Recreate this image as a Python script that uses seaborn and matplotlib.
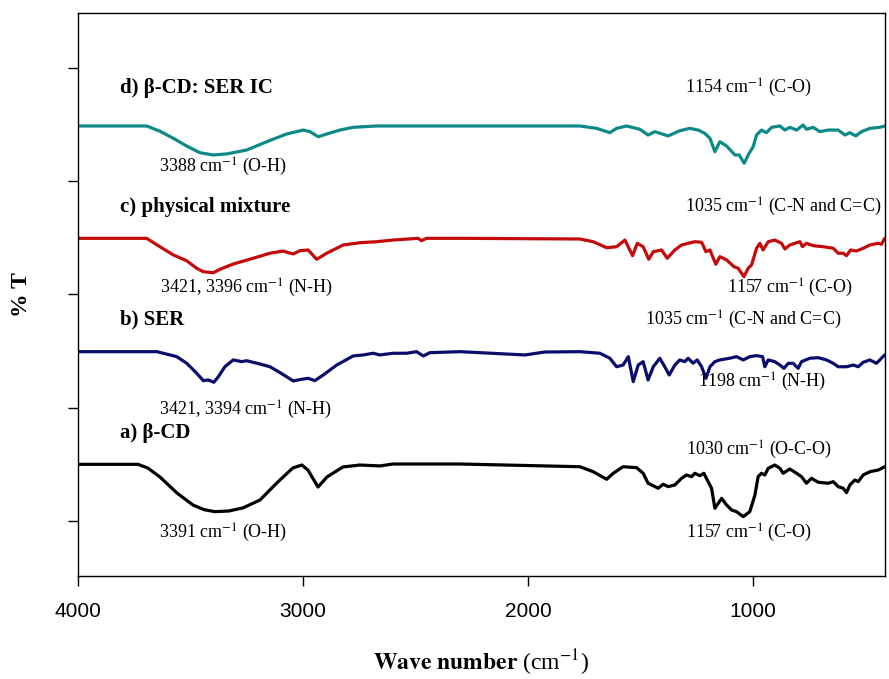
import numpy as np
import pandas as pd
import matplotlib
matplotlib.use("Agg")
import matplotlib.pyplot as plt
import seaborn as sns

# FTIR spectra (wavenumber in cm-1, offset %T in axis units)
cd_wn = [4000, 3733, 3690, 3636, 3560, 3489, 3440, 3391, 3330, 3267, 3191, 3116, 3045, 3005, 2978,
         2933, 2893, 2822, 2747, 2658, 2600, 2302, 1769, 1710, 1650, 1621, 1577, 1517, 1488, 1466,
         1421, 1399, 1377, 1347, 1317, 1295, 1273, 1258, 1236, 1218, 1199, 1184, 1169, 1154, 1139,
         1117, 1095, 1073, 1043, 1014, 991, 977, 962, 947, 932, 903, 880, 866, 836, 806, 784, 762,
         740, 710, 666, 643, 621, 599, 584, 569, 547, 532, 510, 480, 443, 414]
cd_t = [1.50, 1.50, 1.468, 1.389, 1.247, 1.141, 1.100, 1.082, 1.088, 1.115, 1.185, 1.336, 1.468,
        1.494, 1.450, 1.300, 1.389, 1.477, 1.494, 1.486, 1.503, 1.503, 1.479, 1.435, 1.368, 1.421,
        1.479, 1.471, 1.421, 1.333, 1.289, 1.324, 1.303, 1.318, 1.377, 1.406, 1.391, 1.421, 1.400,
        1.421, 1.347, 1.289, 1.112, 1.156, 1.200, 1.141, 1.097, 1.082, 1.038, 1.082, 1.230, 1.391,
        1.421, 1.406, 1.465, 1.494, 1.465, 1.421, 1.459, 1.421, 1.391, 1.333, 1.377, 1.342, 1.333,
        1.347, 1.303, 1.289, 1.250, 1.318, 1.362, 1.347, 1.406, 1.435, 1.450, 1.479]

ser_wn = [4000, 3649, 3561, 3517, 3472, 3443, 3421, 3396, 3376, 3347, 3310, 3272, 3250, 3191, 3147,
          3102, 3043, 3006, 2977, 2947, 2910, 2850, 2777, 2732, 2688, 2658, 2599, 2539, 2495, 2465,
          2436, 2302, 2013, 1925, 1769, 1680, 1636, 1606, 1577, 1554, 1532, 1510, 1488, 1466, 1443,
          1414, 1392, 1372, 1347, 1325, 1303, 1288, 1266, 1248, 1228, 1209, 1191, 1169, 1147, 1103,
          1073, 1043, 1014, 984, 957, 947, 932, 903, 880, 862, 843, 821, 799, 784, 747, 710, 673,
          643, 621, 584, 554, 532, 510, 480, 451, 429, 414]
ser_t = [2.495, 2.495, 2.451, 2.393, 2.304, 2.239, 2.245, 2.225, 2.274, 2.362, 2.422, 2.407, 2.415,
         2.386, 2.362, 2.310, 2.236, 2.251, 2.260, 2.239, 2.289, 2.377, 2.457, 2.466, 2.481, 2.466,
         2.481, 2.481, 2.495, 2.457, 2.486, 2.495, 2.466, 2.492, 2.495, 2.481, 2.437, 2.362, 2.377,
         2.451, 2.230, 2.377, 2.407, 2.245, 2.362, 2.437, 2.362, 2.289, 2.377, 2.422, 2.407, 2.437,
         2.393, 2.422, 2.362, 2.260, 2.362, 2.407, 2.422, 2.437, 2.451, 2.422, 2.451, 2.460, 2.451,
         2.362, 2.422, 2.407, 2.377, 2.348, 2.392, 2.392, 2.348, 2.407, 2.437, 2.442, 2.422, 2.392,
         2.362, 2.362, 2.377, 2.362, 2.401, 2.422, 2.392, 2.437, 2.466]

mix_wn = [4000, 3695, 3636, 3576, 3517, 3472, 3443, 3399, 3369, 3310, 3221, 3147, 3088, 3065, 3043,
          3013, 2977, 2939, 2895, 2821, 2747, 2673, 2599, 2488, 2473, 2451, 2302, 1769, 1710, 1650,
          1606, 1569, 1535, 1514, 1488, 1463, 1443, 1406, 1381, 1347, 1317, 1288, 1258, 1228, 1209,
          1191, 1165, 1147, 1117, 1085, 1066, 1040, 1021, 1006, 984, 969, 955, 932, 903, 873, 858,
          836, 814, 791, 780, 762, 732, 688, 643, 621, 599, 584, 566, 540, 510, 480, 443, 429, 414]
mix_t = [3.496, 3.496, 3.422, 3.349, 3.298, 3.231, 3.201, 3.192, 3.222, 3.269, 3.320, 3.364, 3.384,
         3.369, 3.358, 3.387, 3.393, 3.311, 3.364, 3.437, 3.457, 3.466, 3.481, 3.496, 3.475, 3.496,
         3.496, 3.490, 3.466, 3.413, 3.422, 3.481, 3.343, 3.452, 3.422, 3.311, 3.378, 3.393, 3.320,
         3.393, 3.437, 3.452, 3.466, 3.461, 3.378, 3.393, 3.267, 3.334, 3.305, 3.246, 3.232, 3.157,
         3.232, 3.261, 3.408, 3.452, 3.393, 3.466, 3.481, 3.452, 3.402, 3.437, 3.452, 3.466, 3.422,
         3.452, 3.431, 3.422, 3.408, 3.364, 3.364, 3.343, 3.393, 3.384, 3.408, 3.437, 3.452, 3.443,
         3.496]

ic_wn = [4000, 3695, 3636, 3576, 3517, 3458, 3399, 3339, 3250, 3161, 3073, 2999, 2969, 2932, 2895,
         2836, 2777, 2673, 2302, 1769, 1695, 1636, 1606, 1562, 1503, 1466, 1436, 1377, 1325, 1281,
         1243, 1214, 1191, 1169, 1147, 1117, 1080, 1061, 1039, 1021, 999, 984, 962, 940, 917, 880,
         858, 836, 806, 777, 762, 732, 703, 666, 621, 591, 569, 543, 517, 480, 436, 414]
ic_t = [4.488, 4.488, 4.442, 4.379, 4.311, 4.252, 4.232, 4.241, 4.276, 4.349, 4.417, 4.452, 4.438,
        4.393, 4.417, 4.452, 4.476, 4.488, 4.488, 4.488, 4.467, 4.429, 4.467, 4.488, 4.459, 4.408,
        4.438, 4.400, 4.446, 4.467, 4.452, 4.423, 4.379, 4.261, 4.349, 4.311, 4.232, 4.232, 4.159,
        4.232, 4.305, 4.408, 4.452, 4.429, 4.476, 4.488, 4.452, 4.476, 4.452, 4.497, 4.459, 4.476,
        4.438, 4.452, 4.452, 4.408, 4.429, 4.400, 4.438, 4.467, 4.476, 4.488]

samples = ['a) β-CD', 'b) SER', 'c) physical mixture', 'd) β-CD: SER IC']
colors = ['#000000', '#0a0d6b', '#c40a0a', '#0d8a88']

# sample label positions (wavenumber, y)
label_pos = [(3813, 1.777), (3813, 2.775), (3813, 3.773), (3813, 4.823)]

peak_text = ['3391 cm$^{-1}$ (O-H)', '1157 cm$^{-1}$ (C-O)', '1030 cm$^{-1}$ (O-C-O)',
             '3421, 3394 cm$^{-1}$ (N-H)', '1198 cm$^{-1}$ (N-H)', '1035 cm$^{-1}$ (C-N and C=C)',
             '3421, 3396 cm$^{-1}$ (N-H)', '1157 cm$^{-1}$ (C-O)', '1035 cm$^{-1}$ (C-N and C=C)',
             '3388 cm$^{-1}$ (O-H)', '1154 cm$^{-1}$ (C-O)']
peak_x = [3640, 1298, 1298, 3640, 1245, 1480, 3636, 1116, 1302, 3640, 1302]
peak_y = [0.894, 0.894, 1.627, 1.980, 2.227, 2.775, 3.057, 3.057, 3.773, 4.126, 4.823]

frames = []
for name, wn, t in zip(samples, [cd_wn, ser_wn, mix_wn, ic_wn], [cd_t, ser_t, mix_t, ic_t]):
    frames.append(pd.DataFrame({'wn': wn, 't': t, 'sample': name}))
df = pd.concat(frames, ignore_index=True)

sns.set_style('ticks')
plt.rcParams['mathtext.fontset'] = 'stix'
plt.rcParams['axes.linewidth'] = 1.0
plt.rcParams['text.color'] = 'black'
plt.rcParams['axes.labelcolor'] = 'black'

fig = plt.figure(figsize=(8.89, 6.79), dpi=100)
ax = fig.add_axes([0.0877, 0.1517, 0.9078, 0.8292])

sns.lineplot(data=df, x='wn', y='t', hue='sample', palette=colors, hue_order=samples,
             sort=False, estimator=None, linewidth=2.3, legend=False, ax=ax)

ax.set_xlim(4000, 413)
ax.set_ylim(0.514, 5.486)
ax.set_xticks([4000, 3000, 2000, 1000])
ax.set_yticks([1, 2, 3, 4, 5])
ax.set_yticklabels([])
for s in ax.spines.values():
    s.set_visible(True)
    s.set_color('black')
ax.tick_params(axis='both', direction='out', length=7, width=1, colors='black')
ax.tick_params(axis='x', labelsize=15, pad=12)
for lb in ax.get_xticklabels():
    lb.set_fontfamily('Liberation Sans')

for name, (lx, ly) in zip(samples, label_pos):
    ax.text(lx, ly, name, fontsize=15, fontweight='bold', family='Liberation Serif',
            ha='left', va='center')

for txt, px, py in zip(peak_text, peak_x, peak_y):
    ax.text(px, py, txt, fontsize=13, family='Liberation Serif', ha='left', va='center')

ax.set_xlabel(r'$\mathbf{Wave\ number}$ (cm$^{-1}$)', fontsize=17, family='Liberation Serif')
ax.xaxis.set_label_coords(0.5, -0.128)
ax.set_ylabel('% T', fontsize=17, fontweight='bold', family='Liberation Serif')
ax.yaxis.set_label_coords(-0.057, 0.5)

fig.savefig('out.png', dpi=100)
